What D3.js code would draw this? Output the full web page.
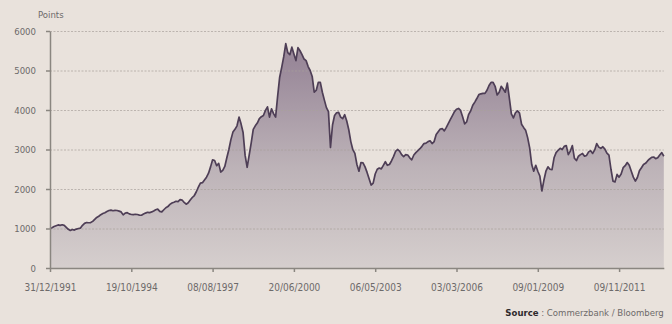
<!DOCTYPE html>
<html>
<head>
<meta charset="utf-8">
<script src="https://cdn.jsdelivr.net/npm/d3@7"></script>
<style>
  html, body { margin: 0; padding: 0; background: #e9e2dc; }
  #chart { width: 672px; height: 324px; }
  text { font-family: "DejaVu Sans Condensed", "DejaVu Sans", sans-serif; font-stretch: condensed; }
</style>
</head>
<body>
<div id="chart"></div>
<script>
// Index level, evenly spaced samples (40 samples between two date labels)
const tickLabels = ["31/12/1991", "19/10/1994", "08/08/1997", "20/06/2000",
    "06/05/2003", "03/03/2006", "09/01/2009", "09/11/2011"];
const samplesPerTick = 40;
const yTicks = [0, 1000, 2000, 3000, 4000, 5000, 6000];

const points = [
    1000, 1020, 1050, 1070, 1090, 1080, 1095, 1080, 1030, 980,
    950, 975, 960, 985, 1000, 1010, 1080, 1130, 1150, 1145,
    1150, 1180, 1230, 1280, 1310, 1350, 1380, 1400, 1430, 1455,
    1465, 1450, 1460, 1455, 1440, 1420, 1345, 1390, 1400, 1370,
    1355, 1350, 1360, 1355, 1340, 1335, 1365, 1390, 1410, 1400,
    1420, 1445, 1475, 1490, 1435, 1420, 1475, 1525, 1555, 1610,
    1645, 1665, 1690, 1680, 1730, 1720, 1660, 1615, 1650, 1720,
    1785, 1835, 1930, 2050, 2150, 2160, 2230, 2300, 2400, 2560,
    2740, 2720, 2590, 2650, 2430, 2470, 2570, 2790, 3000, 3250,
    3440, 3510, 3600, 3820, 3650, 3430, 2850, 2550, 2860, 3170,
    3510, 3600, 3670, 3780, 3830, 3860, 3990, 4080, 3820, 4030,
    3910, 3820, 4350, 4830, 5080, 5350, 5680, 5450, 5400, 5590,
    5420, 5250, 5580, 5500, 5400, 5290, 5250, 5100, 5000, 4850,
    4450, 4500, 4700, 4700, 4450, 4250, 4060, 3960, 3050, 3620,
    3860, 3930, 3940, 3820, 3780, 3880, 3720, 3500, 3200, 2995,
    2900, 2620, 2450, 2670, 2660, 2560, 2420, 2260, 2100, 2150,
    2380, 2500, 2530, 2510, 2600, 2690, 2600, 2620, 2710, 2820,
    2950, 3000, 2960, 2870, 2820, 2870, 2860, 2790, 2740, 2860,
    2920, 2970, 3020, 3080, 3150, 3160, 3200, 3220, 3150, 3200,
    3380, 3450, 3520, 3530, 3470, 3560, 3660, 3760, 3860, 3960,
    4020, 4040, 3990, 3830, 3650, 3700, 3890, 3980, 4120, 4200,
    4290, 4390, 4410, 4420, 4420, 4500, 4620, 4700, 4700, 4600,
    4380, 4450, 4600, 4530, 4450, 4680, 4300, 3900, 3800, 3930,
    3980, 3920, 3640, 3560, 3490, 3300, 3040, 2620, 2450, 2600,
    2450, 2330, 1950, 2220, 2450, 2560, 2500, 2490, 2790, 2920,
    2980, 3030, 3000, 3080, 3100, 2870, 2960, 3100, 2780, 2720,
    2830, 2870, 2900, 2830, 2850, 2940, 2970, 2900, 2990, 3150,
    3060, 3030, 3070, 3010, 2910, 2860, 2500, 2200, 2180, 2370,
    2300, 2380, 2540, 2590, 2670, 2600, 2450, 2300, 2200, 2290,
    2460, 2540, 2620, 2650, 2710, 2760, 2800, 2810, 2770, 2790,
    2860, 2920, 2830
];

{
    const margin = { top: 31, right: 8, bottom: 56, left: 50 };
    const fullWidth = 672, fullHeight = 324;
    const tickStep = 81.3;
    const width = (points.length - 1) * tickStep / samplesPerTick;
    const height = fullHeight - margin.top - margin.bottom;

    const svg = d3.select("#chart")
        .append("svg")
        .attr("width", fullWidth)
        .attr("height", fullHeight);

    const defs = svg.append("defs");
    const grad = defs.append("linearGradient")
        .attr("id", "areaFill")
        .attr("gradientUnits", "userSpaceOnUse")
        .attr("x1", 0).attr("y1", margin.top)
        .attr("x2", 0).attr("y2", margin.top + height);
    grad.append("stop").attr("offset", "0%").attr("stop-color", "#998899");
    grad.append("stop").attr("offset", "45%").attr("stop-color", "#bdb3b8");
    grad.append("stop").attr("offset", "100%").attr("stop-color", "#ddd7d4");

    const g = svg.append("g")
        .attr("transform", `translate(${margin.left},${margin.top})`);

    const x = d3.scaleLinear().domain([0, points.length - 1]).range([0, width]);
    const y = d3.scaleLinear().domain([0, 6000]).range([height, 0]);

    const area = d3.area()
        .x((d, i) => x(i))
        .y0(y(0))
        .y1(d => y(d));

    const line = d3.line()
        .x((d, i) => x(i))
        .y(d => y(d));

    g.append("path")
        .datum(points)
        .attr("fill", "url(#areaFill)")
        .attr("d", area);

    // dashed grid
    g.selectAll(".grid")
        .data(yTicks.filter(d => d > 0))
        .join("line")
        .attr("class", "grid")
        .attr("x1", 0)
        .attr("x2", width)
        .attr("y1", d => y(d) + 0.5)
        .attr("y2", d => y(d) + 0.5)
        .attr("stroke", "#a8a19b")
        .attr("stroke-opacity", 0.7)
        .attr("stroke-dasharray", "2,1.5")
        .attr("stroke-width", 1);

    g.append("path")
        .datum(points)
        .attr("fill", "none")
        .attr("stroke", "#4e3e56")
        .attr("stroke-width", 1.7)
        .attr("stroke-linejoin", "round")
        .attr("d", line);

    // axes
    const tickIdx = tickLabels.map((d, i) => i * samplesPerTick);

    const xAxis = g.append("g")
        .attr("transform", `translate(0,${height})`)
        .call(d3.axisBottom(x)
            .tickValues(tickIdx)
            .tickFormat((d, i) => tickLabels[i])
            .tickSize(4)
            .tickSizeOuter(0));

    const yAxis = g.append("g")
        .call(d3.axisLeft(y)
            .tickValues(yTicks)
            .tickFormat(d3.format("d"))
            .tickSize(4)
            .tickSizeOuter(0));

    [xAxis, yAxis].forEach(ax => {
        ax.select(".domain").attr("stroke", "#8a8680").attr("stroke-width", 1.5);
        ax.selectAll(".tick line").attr("stroke", "#8a8680").attr("stroke-width", 1.5);
        ax.selectAll(".tick text")
            .attr("fill", "#6d6a6a")
            .style("font-size", "10px");
    });
    xAxis.selectAll(".tick text").attr("dy", "1.6em");
    yAxis.selectAll(".tick text").attr("x", -14).style("font-size", "9.5px");

    svg.append("text")
        .attr("x", 38)
        .attr("y", 18)
        .attr("fill", "#6d6a6a")
        .style("font-size", "9.5px")
        .text("Points");

    const src = svg.append("text")
        .attr("x", margin.left + width)
        .attr("y", 316)
        .attr("text-anchor", "end")
        .style("font-size", "9.5px");
    src.append("tspan").attr("fill", "#2e2a2c").attr("font-weight", "bold").text("Source");
    src.append("tspan").attr("fill", "#6d6a6a").text(" : Commerzbank / Bloomberg");
}
</script>
</body>
</html>
